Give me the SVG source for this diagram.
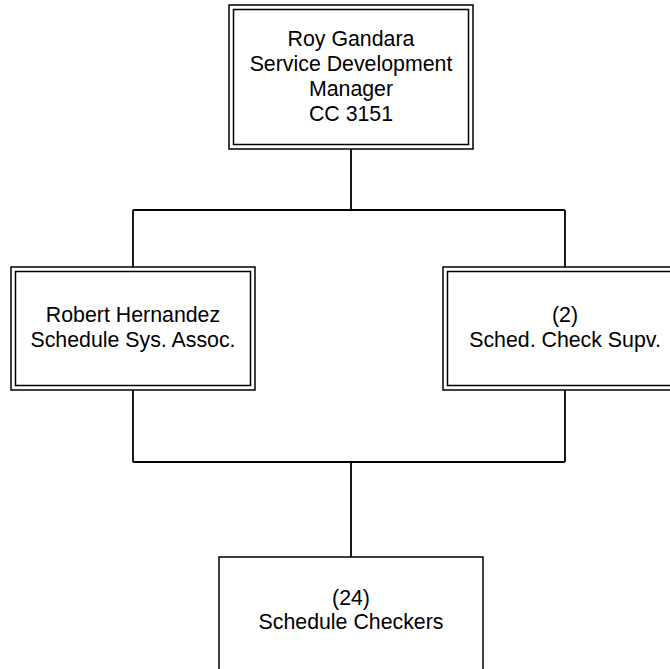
<svg xmlns="http://www.w3.org/2000/svg" width="670" height="669" viewBox="0 0 670 669">
<style>
.bg{fill:#ffffff}
.box{fill:#ffffff;stroke:#000000;stroke-width:1.5}
.inner{fill:none;stroke:#000000;stroke-width:1.5}
.conn{fill:none;stroke:#000000;stroke-width:1.8}
text{font-family:"Liberation Sans",Arial,sans-serif;font-size:21.33px;fill:#000000;text-anchor:middle}
</style>
<rect class="bg" x="0" y="0" width="670" height="669"/>
<g id="connectors">
<path class="conn" d="M351,149 V210 M133,210 H565 M133,210 V267 M565,210 V267"/>
<path class="conn" d="M133,390 V462 M565,390 V462 M133,462 H565 M351,462 V557"/>
</g>
<g id="node-roy">
<rect class="box" x="229" y="5" width="244" height="144"/>
<rect class="inner" x="233.5" y="9.5" width="235" height="135"/>
<text x="351" y="46">Roy Gandara</text>
<text x="351" y="71">Service Development</text>
<text x="351" y="96">Manager</text>
<text x="351" y="121">CC 3151</text>
</g>
<g id="node-robert">
<rect class="box" x="11" y="267" width="244" height="123"/>
<rect class="inner" x="15.5" y="271.5" width="235" height="114"/>
<text x="133" y="322">Robert Hernandez</text>
<text x="133" y="346.5">Schedule Sys. Assoc.</text>
</g>
<g id="node-supv">
<rect class="box" x="443" y="267" width="244" height="123"/>
<rect class="inner" x="447.5" y="271.5" width="235" height="114"/>
<text x="565" y="322">(2)</text>
<text x="565" y="346.5">Sched. Check Supv.</text>
</g>
<g id="node-checkers">
<rect class="box" x="219" y="557" width="264" height="130"/>
<text x="351" y="604.5">(24)</text>
<text x="351" y="629">Schedule Checkers</text>
</g>
</svg>
